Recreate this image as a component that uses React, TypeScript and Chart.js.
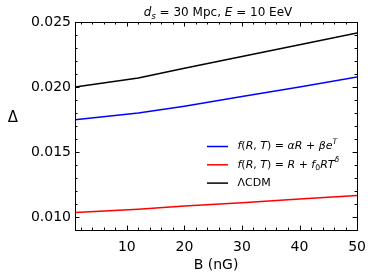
import React, { useEffect, useRef } from "react";
import { Chart, registerables } from "chart.js";

Chart.register(...registerables);

const bValues = [1, 12, 20, 30, 40, 50];
const seriesAlpha = [0.01748, 0.0180, 0.01852, 0.01927, 0.0200, 0.02077];
const seriesDelta = [0.01034, 0.0106, 0.01084, 0.0111, 0.01138, 0.01166];
const seriesLCDM = [0.0200, 0.0207, 0.02145, 0.02235, 0.02325, 0.02415];
const xTicks = [10, 20, 30, 40, 50];
const yTicks = [0.010, 0.015, 0.020, 0.025];
const legendLabels = ["f(R, T) = αR + βe^T", "f(R, T) = R + f0RT^δ", "ΛCDM"];
const seriesColors = ["#0000ff", "#ff0000", "#000000"];

const FONT = "'DejaVu Sans', sans-serif";

type Seg = { t: string; it?: boolean; sup?: boolean; sub?: boolean };

function drawSegs(ctx: CanvasRenderingContext2D, segs: Seg[], x: number, y: number, size: number, align: "left" | "center") {
  const fontFor = (s: Seg) => `${s.it ? "italic " : ""}${s.sup || s.sub ? size * 0.7 : size}px ${FONT}`;
  let total = 0;
  for (const s of segs) {
    ctx.font = fontFor(s);
    total += ctx.measureText(s.t).width;
  }
  let cx = align === "center" ? x - total / 2 : x;
  ctx.textBaseline = "middle";
  ctx.textAlign = "left";
  for (const s of segs) {
    ctx.font = fontFor(s);
    const dy = s.sup ? -size * 0.4 : s.sub ? size * 0.3 : 0;
    ctx.fillText(s.t, cx, y + dy);
    cx += ctx.measureText(s.t).width;
  }
}

const legendSegs: Seg[][] = [
  [{ t: "f", it: true }, { t: "(" }, { t: "R", it: true }, { t: ", " }, { t: "T", it: true }, { t: ") = " }, { t: "αR", it: true }, { t: " + " }, { t: "βe", it: true }, { t: "T", it: true, sup: true }],
  [{ t: "f", it: true }, { t: "(" }, { t: "R", it: true }, { t: ", " }, { t: "T", it: true }, { t: ") = " }, { t: "R", it: true }, { t: " + " }, { t: "f", it: true }, { t: "0", sub: true }, { t: "RT", it: true }, { t: "δ", it: true, sup: true }],
  [{ t: "ΛCDM" }],
];

const decorPlugin = {
  id: "decor",
  afterDraw(chart: any) {
    const ctx: CanvasRenderingContext2D = chart.ctx;
    const { left, right, top, bottom } = chart.chartArea;
    const xs = chart.scales.x;
    const ys = chart.scales.y;
    ctx.save();
    ctx.strokeStyle = "#000";
    ctx.lineWidth = 1;
    ctx.strokeRect(Math.round(left) + 0.5, Math.round(top) + 0.5, Math.round(right - left), Math.round(bottom - top));
    // ticks
    ctx.beginPath();
    for (let v = 2; v <= 50; v += 2) {
      const major = v % 10 === 0;
      const L = major ? 4.5 : 2.5;
      const px = Math.round(xs.getPixelForValue(v)) + 0.5;
      ctx.moveTo(px, bottom);
      ctx.lineTo(px, bottom - L);
      ctx.moveTo(px, top);
      ctx.lineTo(px, top + L);
    }
    for (let i = 9; i <= 25; i++) {
      const v = i / 1000;
      const major = i % 5 === 0;
      const L = major ? 4.5 : 2.5;
      const py = Math.round(ys.getPixelForValue(v)) + 0.5;
      ctx.moveTo(left, py);
      ctx.lineTo(left + L, py);
      ctx.moveTo(right, py);
      ctx.lineTo(right - L, py);
    }
    ctx.stroke();
    // legend
    ctx.fillStyle = "#000";
    for (let i = 0; i < 3; i++) {
      const y = 146.5 + i * 18.3;
      ctx.strokeStyle = seriesColors[i];
      ctx.lineWidth = 1.5;
      ctx.beginPath();
      ctx.moveTo(207, y);
      ctx.lineTo(228, y);
      ctx.stroke();
      drawSegs(ctx, legendSegs[i], 237.5, y, 11, "left");
    }
    // title
    const cxm = (left + right) / 2;
    drawSegs(ctx, [{ t: "d", it: true }, { t: "s", it: true, sub: true }, { t: " = 30 Mpc, " }, { t: "E", it: true }, { t: " = 10 EeV" }], cxm + 2, 13, 12, "center");
    // axis titles
    ctx.font = `14px ${FONT}`;
    ctx.textAlign = "center";
    ctx.textBaseline = "middle";
    ctx.fillText("B (nG)", cxm, 265);
    ctx.font = `15px ${FONT}`;
    ctx.fillText("Δ", 13, 118);
    ctx.restore();
  },
};

export default function App() {
  const ref = useRef<HTMLCanvasElement>(null);
  useEffect(() => {
    document.body.style.margin = "0";
    const chart = new Chart(ref.current!, {
      type: "line",
      data: {
        labels: bValues,
        datasets: [seriesAlpha, seriesDelta, seriesLCDM].map((d, i) => ({
          label: legendLabels[i],
          data: d.map((y, j) => ({ x: bValues[j], y })),
          borderColor: seriesColors[i],
          borderWidth: 1.5,
          pointRadius: 0,
          tension: 0,
          fill: false,
        })),
      },
      options: {
        animation: false,
        responsive: false,
        layout: { padding: { left: 0, right: 16, top: 22, bottom: 0 } },
        plugins: { legend: { display: false }, tooltip: { enabled: false } },
        scales: {
          x: {
            type: "linear",
            min: 1,
            max: 50,
            grid: { display: false, drawTicks: false },
            border: { display: true, color: "#000" },
            ticks: { color: "#000", font: { family: FONT, size: 14 }, padding: 9, maxRotation: 0 },
            afterBuildTicks: (axis: any) => {
              axis.ticks = xTicks.map((v) => ({ value: v }));
            },
            afterFit: (s: any) => {
              s.height = 50;
            },
          },
          y: {
            type: "linear",
            min: 0.009,
            max: 0.025,
            grid: { display: false, drawTicks: false },
            border: { display: true, color: "#000" },
            ticks: {
              color: "#000",
              font: { family: FONT, size: 14 },
              padding: 4,
              callback: (v: any) => Number(v).toFixed(3),
            },
            afterBuildTicks: (axis: any) => {
              axis.ticks = yTicks.map((v) => ({ value: v }));
            },
            afterFit: (s: any) => {
              s.width = 75;
            },
          },
        },
      },
      plugins: [decorPlugin],
    } as any);
    return () => chart.destroy();
  }, []);
  return <canvas ref={ref} width={375} height={280} style={{ display: "block" }} />;
}
